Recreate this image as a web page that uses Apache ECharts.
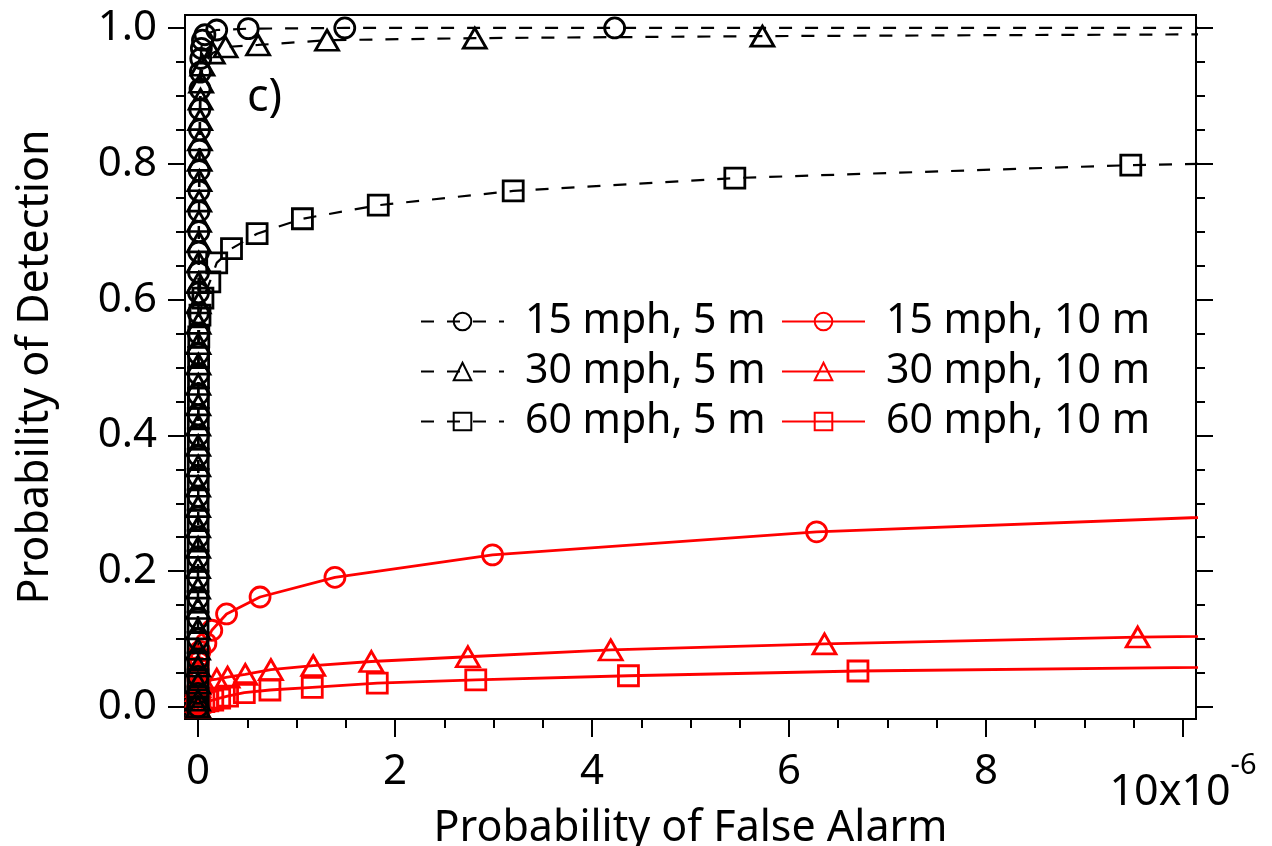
<!DOCTYPE html>
<html>
<head>
<meta charset="utf-8">
<title>ROC c)</title>
<script src="https://cdn.jsdelivr.net/npm/echarts@6/dist/echarts.min.js"></script>
<style>
    html, body { margin: 0; padding: 0; background: #fff; }
    #chart { width: 1272px; height: 846px; }
</style>
</head>
<body>
<div id="chart"></div>
<script>
// false alarm values are in units of 1e-6 (the axis shows "10x10^-6" at the end)
const pfa15mph5m = [0, 0, 0, 0, 0, 0, 0, 0, 0, 0.001, 0.001, 0.001, 0.001, 0.001, 0.002, 0.002, 0.002, 0.003, 0.003, 0.004, 0.004, 0.005, 0.006, 0.007, 0.008, 0.009, 0.010, 0.012, 0.014, 0.016, 0.018, 0.021, 0.024, 0.028, 0.034, 0.045, 0.07, 0.19, 0.51, 1.49, 4.23, 12.5];
const pd15mph5m = [0.000, 0.020, 0.045, 0.070, 0.100, 0.130, 0.160, 0.190, 0.220, 0.250, 0.280, 0.310, 0.340, 0.370, 0.400, 0.430, 0.460, 0.490, 0.520, 0.550, 0.580, 0.610, 0.640, 0.670, 0.700, 0.730, 0.760, 0.790, 0.820, 0.850, 0.880, 0.910, 0.935, 0.955, 0.970, 0.982, 0.990, 0.997, 0.999, 1.000, 1.000, 1.000];

const pfa30mph5m = [0, 0, 0, 0, 0, 0, 0, 0, 0, 0.001, 0.001, 0.001, 0.001, 0.002, 0.002, 0.002, 0.003, 0.003, 0.004, 0.004, 0.005, 0.006, 0.007, 0.008, 0.009, 0.010, 0.012, 0.014, 0.016, 0.019, 0.022, 0.026, 0.032, 0.045, 0.15, 0.28, 0.61, 1.31, 2.81, 5.73, 12.5];
const pd30mph5m = [0.000, 0.010, 0.035, 0.060, 0.085, 0.115, 0.145, 0.175, 0.205, 0.235, 0.265, 0.295, 0.325, 0.355, 0.385, 0.415, 0.445, 0.475, 0.505, 0.535, 0.565, 0.595, 0.625, 0.655, 0.685, 0.715, 0.745, 0.775, 0.805, 0.835, 0.865, 0.895, 0.920, 0.945, 0.963, 0.972, 0.975, 0.982, 0.985, 0.988, 0.992];

const pfa60mph5m = [0, 0, 0, 0, 0, 0, 0, 0, 0, 0.001, 0.001, 0.001, 0.002, 0.002, 0.003, 0.003, 0.004, 0.005, 0.006, 0.008, 0.02, 0.05, 0.12, 0.19, 0.34, 0.60, 1.06, 1.83, 3.20, 5.45, 9.47, 14.0];
const pd60mph5m = [0.000, 0.015, 0.040, 0.065, 0.095, 0.125, 0.155, 0.185, 0.215, 0.245, 0.275, 0.305, 0.335, 0.365, 0.395, 0.425, 0.455, 0.485, 0.515, 0.545, 0.577, 0.602, 0.626, 0.654, 0.675, 0.697, 0.719, 0.739, 0.760, 0.779, 0.798, 0.810];

const pfa15mph10m = [0, 0, 0, 0, 0, 0.001, 0.002, 0.004, 0.008, 0.02, 0.08, 0.14, 0.29, 0.63, 1.39, 2.99, 6.28, 14.0];
const pd15mph10m = [0.000, 0.010, 0.020, 0.030, 0.040, 0.050, 0.058, 0.066, 0.074, 0.082, 0.094, 0.113, 0.137, 0.162, 0.191, 0.224, 0.258, 0.300];

const pfa30mph10m = [0, 0, 0, 0, 0.001, 0.003, 0.01, 0.05, 0.19, 0.30, 0.48, 0.74, 1.17, 1.76, 2.74, 4.19, 6.36, 9.54, 14.0];
const pd30mph10m = [0.000, 0.008, 0.016, 0.024, 0.030, 0.034, 0.036, 0.038, 0.041, 0.044, 0.048, 0.055, 0.061, 0.067, 0.074, 0.084, 0.093, 0.103, 0.110];

const pfa60mph10m = [0, 0, 0, 0.001, 0.005, 0.02, 0.06, 0.10, 0.15, 0.22, 0.30, 0.47, 0.73, 1.16, 1.82, 2.82, 4.37, 6.70, 14.0];
const pd60mph10m = [0.000, 0.002, 0.004, 0.005, 0.006, 0.007, 0.008, 0.009, 0.010, 0.013, 0.016, 0.021, 0.025, 0.029, 0.035, 0.040, 0.046, 0.053, 0.064];

const blackNames = ['15 mph, 5 m', '30 mph, 5 m', '60 mph, 5 m'];
const redNames = ['15 mph, 10 m', '30 mph, 10 m', '60 mph, 10 m'];

const xMajorTicks = [0, 2, 4, 6, 8, 10];
const xMinorTicks = [0.5, 1, 1.5, 2.5, 3, 3.5, 4.5, 5, 5.5, 6.5, 7, 7.5, 8.5, 9, 9.5];
const yMajorTicks = [0, 0.2, 0.4, 0.6, 0.8, 1.0];
const yMinorTicks = [0.05, 0.1, 0.15, 0.25, 0.3, 0.35, 0.45, 0.5, 0.55, 0.65, 0.7, 0.75, 0.85, 0.9, 0.95];

const FONT = 'Noto Sans';
const X_MIN = -0.132, X_MAX = 10.132;
const Y_MIN = -0.0177, Y_MAX = 1.0191;

function pairs(xs, ys) {
    let arr = [];
    for (let i = 0; i < xs.length; i++) {
        arr.push([xs[i], ys[i]]);
    }
    return arr;
}

function makeSeries(name, xs, ys, symbol, size, color, dashed) {
    return {
        name: name,
        type: 'line',
        data: pairs(xs, ys),
        symbol: symbol,
        symbolSize: size,
        showAllSymbol: true,
        clip: true,
        lineStyle: {
            color: color,
            width: dashed ? 2.2 : 2.8,
            type: dashed ? [13, 13] : 'solid'
        },
        itemStyle: {
            color: 'transparent',
            borderColor: color,
            borderWidth: 2.8
        },
        emphasis: { disabled: true }
    };
}

function tickAxis(pos, min, max, values, len) {
    return {
        type: 'value',
        position: pos,
        min: min,
        max: max,
        axisLine: { show: false, onZero: false },
        axisTick: {
            show: true,
            length: len,
            customValues: values,
            lineStyle: { color: '#000', width: 2 }
        },
        axisLabel: { show: false },
        splitLine: { show: false }
    };
}

var chart = echarts.init(document.getElementById('chart'), null, { renderer: 'canvas' });

let xMain = tickAxis('bottom', X_MIN, X_MAX, xMajorTicks, 18);
xMain.axisLabel = {
    show: true,
    customValues: xMajorTicks,
    margin: 32,
    color: '#000',
    fontFamily: FONT,
    fontSize: 42,
    formatter: function (v) {
        if (v === 10) {
            return '{e|10x10}{s|-6}';
        }
        return String(v);
    },
    rich: {
        e: { fontFamily: FONT, fontSize: 43, color: '#000', verticalAlign: 'bottom', padding: [20, 0, 0, 0] },
        s: { fontFamily: FONT, fontSize: 29, color: '#000', verticalAlign: 'top' }
    }
};
xMain.name = 'Probability of False Alarm';
xMain.nameLocation = 'middle';
xMain.nameGap = 88;
xMain.nameMoveOverlap = false;
xMain.nameTextStyle = { fontFamily: FONT, fontSize: 43, color: '#000' };

let yMain = tickAxis('left', Y_MIN, Y_MAX, yMajorTicks, 17);
yMain.axisLabel = {
    show: true,
    customValues: yMajorTicks,
    margin: 28,
    color: '#000',
    fontFamily: FONT,
    fontSize: 42,
    formatter: function (v) { return v.toFixed(1); }
};
yMain.name = 'Probability of Detection';
yMain.nameLocation = 'middle';
yMain.nameGap = 128;
yMain.nameMoveOverlap = false;
yMain.nameTextStyle = { fontFamily: FONT, fontSize: 43, color: '#000' };

let legendBase = {
    orient: 'vertical',
    top: 296,
    itemWidth: 83,
    itemHeight: 22,
    itemGap: 9,
    selectedMode: false,
    textStyle: { fontFamily: FONT, fontSize: 41, color: '#000', padding: [0, 0, 0, 16] }
};

let option = {
    animation: false,
    backgroundColor: '#fff',
    title: {
        text: 'c)',
        left: 247,
        top: 76,
        padding: 0,
        textStyle: { fontFamily: FONT, fontSize: 45, fontWeight: 'normal', color: '#000' }
    },
    grid: {
        left: 185,
        right: 76,
        top: 15,
        bottom: 127,
        containLabel: false,
        outerBoundsMode: 'none',
        show: true,
        borderColor: '#000',
        borderWidth: 2,
        backgroundColor: 'transparent'
    },
    legend: [
        Object.assign({}, legendBase, { left: 415, data: blackNames }),
        Object.assign({}, legendBase, { left: 776, data: redNames })
    ],
    xAxis: [
        xMain,
        tickAxis('bottom', X_MIN, X_MAX, xMinorTicks, 9)
    ],
    yAxis: [
        yMain,
        tickAxis('left', Y_MIN, Y_MAX, yMinorTicks, 9),
        tickAxis('right', Y_MIN, Y_MAX, yMajorTicks, 17),
        tickAxis('right', Y_MIN, Y_MAX, yMinorTicks, 9)
    ],
    series: [
        makeSeries(redNames[0], pfa15mph10m, pd15mph10m, 'circle', 20, '#ff0000', false),
        makeSeries(redNames[1], pfa30mph10m, pd30mph10m, 'triangle', [23, 20], '#ff0000', false),
        makeSeries(redNames[2], pfa60mph10m, pd60mph10m, 'rect', 20, '#ff0000', false),
        makeSeries(blackNames[0], pfa15mph5m, pd15mph5m, 'circle', 20, '#000000', true),
        makeSeries(blackNames[1], pfa30mph5m, pd30mph5m, 'triangle', [23, 20], '#000000', true),
        makeSeries(blackNames[2], pfa60mph5m, pd60mph5m, 'rect', 20, '#000000', true)
    ]
};

chart.setOption(option);
</script>
</body>
</html>
